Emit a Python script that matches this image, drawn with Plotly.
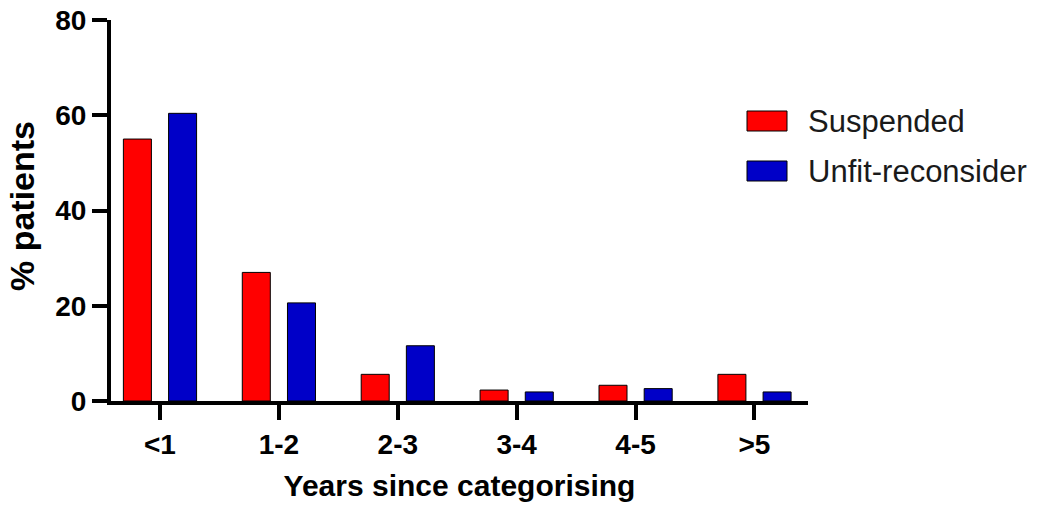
import plotly.graph_objects as go

categories = ['<1', '1-2', '2-3', '3-4', '4-5', '>5']
suspended = [55.0, 27.0, 5.6, 2.3, 3.3, 5.6]
unfit_reconsider = [60.4, 20.6, 11.6, 1.9, 2.6, 1.9]
series_names = ['Suspended', 'Unfit-reconsider']
y_ticks = [0, 20, 40, 60, 80]

W, H = 1041, 508
OFF = 8  # page body margin
L, R, T, B = 103, 241, 12, 115
red = '#ff0000'
blue = '#0000c8'
font = 'Liberation Sans, Arial, sans-serif'

fig = go.Figure()
fig.add_trace(go.Bar(x=categories, y=suspended, name=series_names[0],
                     marker=dict(color=red, line=dict(color='black', width=1))))
fig.add_trace(go.Bar(x=categories, y=unfit_reconsider, name=series_names[1],
                     marker=dict(color=blue, line=dict(color='black', width=1))))

# legend drawn by hand so the swatches match the wide rectangles
pw = W - L - R
ph = H - T - B
def px(x):
    return (x - OFF - L) / pw
def py(y):
    return (H - B - (y - OFF)) / ph

for i, (name, col) in enumerate(zip(series_names, [red, blue])):
    yc = 121 + i * 50
    fig.add_shape(type='rect', xref='paper', yref='paper',
                  x0=px(747), x1=px(787), y0=py(yc - 10), y1=py(yc + 10),
                  fillcolor=col, line=dict(color='black', width=1))
    fig.add_annotation(xref='paper', yref='paper', x=px(806), y=py(yc),
                       text=name, showarrow=False, xanchor='left', yanchor='middle',
                       font=dict(family=font, size=31, color='#1a1a1a'))

# y axis title placed as a rotated annotation
fig.add_annotation(xref='paper', yref='paper', x=px(22), y=py(206),
                   text='<b>% patients</b>', textangle=-90, showarrow=False,
                   xanchor='center', yanchor='middle',
                   font=dict(family=font, size=34, color='black'))

fig.update_layout(
    width=W, height=H,
    margin=dict(l=L, r=R, t=T, b=B, autoexpand=False),
    plot_bgcolor='white', paper_bgcolor='white',
    showlegend=False,
    barmode='group', bargap=0.24, bargroupgap=0.38,
    font=dict(family=font, color='black'),
    xaxis=dict(
        range=[-0.412, 5.45], automargin=False, ticklabeloverflow='allow',
        showline=True, linecolor='black', linewidth=4,
        ticks='outside', ticklen=15, tickwidth=4, tickcolor='black',
        tickfont=dict(size=28, family=font, weight='bold'),
        title=dict(text='<b>Years since categorising</b>', font=dict(size=30, family=font), standoff=17),
        showgrid=False, zeroline=False,
    ),
    yaxis=dict(
        range=[0, 80], tickvals=y_ticks, automargin=False, ticklabeloverflow='allow',
        showline=True, linecolor='black', linewidth=4,
        ticks='outside', ticklen=15, tickwidth=4, tickcolor='black',
        tickfont=dict(size=28, family=font, weight='bold'),
        showgrid=False, zeroline=False,
    ),
)

fig.write_html('out.html')
